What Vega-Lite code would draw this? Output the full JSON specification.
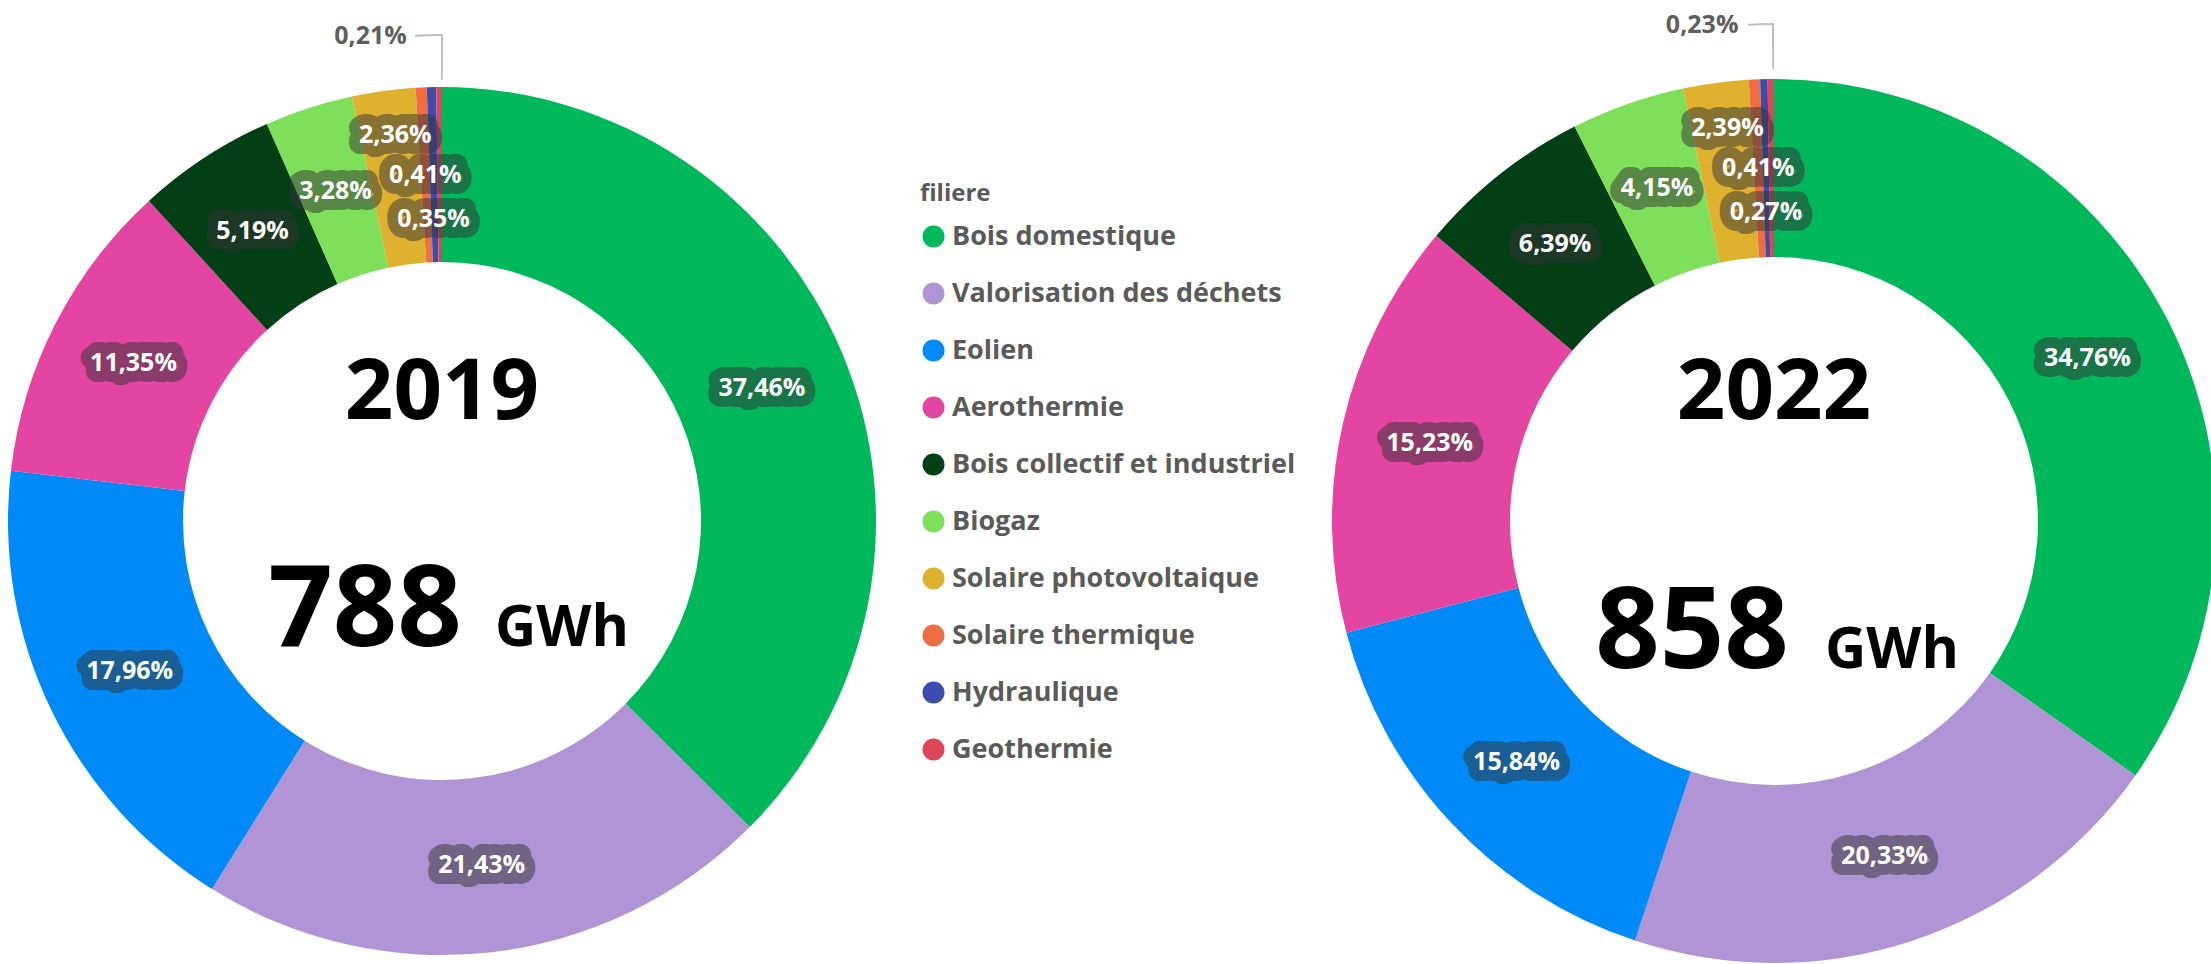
{
  "$schema": "https://vega.github.io/schema/vega-lite/v6.json",
  "width": 2211,
  "height": 886,
  "autosize": {"type": "none"},
  "padding": {"left": 0, "right": 0, "top": 78, "bottom": 0},
  "background": "white",
  "config": {
    "view": {"stroke": null},
    "locale": {"number": {"decimal": ",", "thousands": " ", "grouping": [3], "currency": ["", " €"]}}
  },
  "datasets": {
    "shares": [
      {"year": "2019", "filiere": "Bois domestique", "share": 0.3746},
      {"year": "2019", "filiere": "Valorisation des déchets", "share": 0.2143},
      {"year": "2019", "filiere": "Eolien", "share": 0.1796},
      {"year": "2019", "filiere": "Aerothermie", "share": 0.1135},
      {"year": "2019", "filiere": "Bois collectif et industriel", "share": 0.0519},
      {"year": "2019", "filiere": "Biogaz", "share": 0.0328},
      {"year": "2019", "filiere": "Solaire photovoltaique", "share": 0.0236},
      {"year": "2019", "filiere": "Solaire thermique", "share": 0.0041},
      {"year": "2019", "filiere": "Hydraulique", "share": 0.0035},
      {"year": "2019", "filiere": "Geothermie", "share": 0.0021},
      {"year": "2022", "filiere": "Bois domestique", "share": 0.3476},
      {"year": "2022", "filiere": "Valorisation des déchets", "share": 0.2033},
      {"year": "2022", "filiere": "Eolien", "share": 0.1584},
      {"year": "2022", "filiere": "Aerothermie", "share": 0.1523},
      {"year": "2022", "filiere": "Bois collectif et industriel", "share": 0.0639},
      {"year": "2022", "filiere": "Biogaz", "share": 0.0415},
      {"year": "2022", "filiere": "Solaire photovoltaique", "share": 0.0239},
      {"year": "2022", "filiere": "Solaire thermique", "share": 0.0041},
      {"year": "2022", "filiere": "Hydraulique", "share": 0.0027},
      {"year": "2022", "filiere": "Geothermie", "share": 0.0023}
    ],
    "totals": [
      {"year": "2019", "total": 788},
      {"year": "2022", "total": 858}
    ]
  },
  "layer": [
    {
      "data": {"name": "shares"},
      "transform": [{"filter": "datum.year === '2019'"}],
      "mark": {"type": "arc", "innerRadius": 259, "outerRadius": 434},
      "encoding": {
        "x": {"field": "year", "type": "nominal", "scale": {"type": "point", "padding": 0.329955, "align": 0.50284}, "axis": null},
        "theta": {"field": "share", "type": "quantitative", "stack": true},
        "order": {"field": "share", "type": "quantitative", "sort": "descending"},
        "color": {
          "field": "filiere", "type": "nominal",
          "scale": {
            "domain": ["Bois domestique", "Valorisation des déchets", "Eolien", "Aerothermie", "Bois collectif et industriel", "Biogaz", "Solaire photovoltaique", "Solaire thermique", "Hydraulique", "Geothermie"],
            "range": ["#00B85C", "#B094D6", "#008AF8", "#E545A2", "#033F15", "#7DDF5A", "#DEB22F", "#EE6E42", "#3C4DAF", "#DE4556"]
          },
          "legend": {
            "orient": "none", "legendX": 920, "legendY": 104,
            "title": "filiere", "titleFont": "Open Sans", "titleFontSize": 24, "titleFontWeight": "bold", "titleColor": "#5a5a5a", "titlePadding": 17,
            "labelFont": "Open Sans", "labelFontSize": 27, "labelFontWeight": "bold", "labelColor": "#5a5a5a", "labelOffset": 5, "labelLimit": 600,
            "symbolType": "circle", "symbolSize": 484, "symbolStrokeWidth": 0, "symbolOpacity": 1, "rowPadding": 29
          }
        }
      }
    },
    {
      "data": {"name": "shares"},
      "transform": [{"filter": "datum.year === '2019'"}],
      "mark": {"type": "text", "radius": 346.5, "font": "Open Sans", "fontSize": 25, "fontWeight": "bold", "align": "center", "baseline": "middle", "color": "#333333", "stroke": "#333333", "strokeWidth": 22, "strokeJoin": "round", "opacity": 0.5},
      "encoding": {
        "x": {"field": "year", "type": "nominal", "axis": null},
        "theta": {"field": "share", "type": "quantitative", "stack": true},
        "order": {"field": "share", "type": "quantitative", "sort": "descending"},
        "text": {"field": "share", "type": "quantitative", "format": ".2%", "condition": {"test": "indexof(['Solaire photovoltaique','Hydraulique','Geothermie'], datum.filiere) >= 0", "value": ""}}
      }
    },
    {
      "data": {"name": "shares"},
      "transform": [{"filter": "datum.year === '2019'"}],
      "mark": {"type": "text", "radius": 346.5, "font": "Open Sans", "fontSize": 25, "fontWeight": "bold", "align": "center", "baseline": "middle", "color": "white"},
      "encoding": {
        "x": {"field": "year", "type": "nominal", "axis": null},
        "theta": {"field": "share", "type": "quantitative", "stack": true},
        "order": {"field": "share", "type": "quantitative", "sort": "descending"},
        "text": {"field": "share", "type": "quantitative", "format": ".2%", "condition": {"test": "indexof(['Solaire photovoltaique','Hydraulique','Geothermie'], datum.filiere) >= 0", "value": ""}}
      }
    },
    {
      "data": {"name": "shares"},
      "transform": [{"filter": "datum.year === '2019'"}],
      "mark": {"type": "text", "radius": 346.5, "dy": -43, "font": "Open Sans", "fontSize": 25, "fontWeight": "bold", "align": "center", "baseline": "middle", "color": "#333333", "stroke": "#333333", "strokeWidth": 22, "strokeJoin": "round", "opacity": 0.5},
      "encoding": {
        "x": {"field": "year", "type": "nominal", "axis": null},
        "theta": {"field": "share", "type": "quantitative", "stack": true},
        "order": {"field": "share", "type": "quantitative", "sort": "descending"},
        "text": {"field": "share", "type": "quantitative", "format": ".2%", "condition": {"test": "datum.filiere !== 'Solaire photovoltaique'", "value": ""}}
      }
    },
    {
      "data": {"name": "shares"},
      "transform": [{"filter": "datum.year === '2019'"}],
      "mark": {"type": "text", "radius": 346.5, "dy": -43, "font": "Open Sans", "fontSize": 25, "fontWeight": "bold", "align": "center", "baseline": "middle", "color": "white"},
      "encoding": {
        "x": {"field": "year", "type": "nominal", "axis": null},
        "theta": {"field": "share", "type": "quantitative", "stack": true},
        "order": {"field": "share", "type": "quantitative", "sort": "descending"},
        "text": {"field": "share", "type": "quantitative", "format": ".2%", "condition": {"test": "datum.filiere !== 'Solaire photovoltaique'", "value": ""}}
      }
    },
    {
      "data": {"name": "shares"},
      "transform": [{"filter": "datum.year === '2019'"}],
      "mark": {"type": "text", "radius": 346.5, "dy": 44, "font": "Open Sans", "fontSize": 25, "fontWeight": "bold", "align": "center", "baseline": "middle", "color": "#333333", "stroke": "#333333", "strokeWidth": 22, "strokeJoin": "round", "opacity": 0.5},
      "encoding": {
        "x": {"field": "year", "type": "nominal", "axis": null},
        "theta": {"field": "share", "type": "quantitative", "stack": true},
        "order": {"field": "share", "type": "quantitative", "sort": "descending"},
        "text": {"field": "share", "type": "quantitative", "format": ".2%", "condition": {"test": "datum.filiere !== 'Hydraulique'", "value": ""}}
      }
    },
    {
      "data": {"name": "shares"},
      "transform": [{"filter": "datum.year === '2019'"}],
      "mark": {"type": "text", "radius": 346.5, "dy": 44, "font": "Open Sans", "fontSize": 25, "fontWeight": "bold", "align": "center", "baseline": "middle", "color": "white"},
      "encoding": {
        "x": {"field": "year", "type": "nominal", "axis": null},
        "theta": {"field": "share", "type": "quantitative", "stack": true},
        "order": {"field": "share", "type": "quantitative", "sort": "descending"},
        "text": {"field": "share", "type": "quantitative", "format": ".2%", "condition": {"test": "datum.filiere !== 'Hydraulique'", "value": ""}}
      }
    },
    {
      "data": {"name": "shares"},
      "transform": [{"filter": "datum.year === '2019'"}],
      "mark": {"type": "text", "radius": 485, "dx": -32, "font": "Open Sans", "fontSize": 25, "fontWeight": "bold", "align": "right", "baseline": "middle", "color": "#605E5C"},
      "encoding": {
        "x": {"field": "year", "type": "nominal", "axis": null},
        "theta": {"field": "share", "type": "quantitative", "stack": true},
        "order": {"field": "share", "type": "quantitative", "sort": "descending"},
        "text": {"field": "share", "type": "quantitative", "format": ".2%", "condition": {"test": "datum.filiere !== 'Geothermie'", "value": ""}}
      }
    },
    {
      "data": {"name": "shares"},
      "transform": [{"filter": "datum.year === '2019' && datum.filiere === 'Geothermie'"}],
      "mark": {"type": "arc", "theta": -0.002, "theta2": 0.002, "innerRadius": 441, "outerRadius": 487, "color": "#BDBDBD"},
      "encoding": {"x": {"field": "year", "type": "nominal", "axis": null}}
    },
    {
      "data": {"name": "shares"},
      "transform": [{"filter": "datum.year === '2019' && datum.filiere === 'Geothermie'"}],
      "mark": {"type": "arc", "theta": -0.0556, "theta2": 0.0, "innerRadius": 485, "outerRadius": 487, "color": "#BDBDBD"},
      "encoding": {"x": {"field": "year", "type": "nominal", "axis": null}}
    },
    {
      "data": {"name": "shares"},
      "transform": [{"filter": "datum.year === '2022'"}],
      "mark": {"type": "arc", "innerRadius": 264, "outerRadius": 442},
      "encoding": {
        "x": {"field": "year", "type": "nominal", "axis": null},
        "theta": {"field": "share", "type": "quantitative", "stack": true},
        "order": {"field": "share", "type": "quantitative", "sort": "descending"},
        "color": {"field": "filiere", "type": "nominal"}
      }
    },
    {
      "data": {"name": "shares"},
      "transform": [{"filter": "datum.year === '2022'"}],
      "mark": {"type": "text", "radius": 353, "font": "Open Sans", "fontSize": 25, "fontWeight": "bold", "align": "center", "baseline": "middle", "color": "#333333", "stroke": "#333333", "strokeWidth": 22, "strokeJoin": "round", "opacity": 0.5},
      "encoding": {
        "x": {"field": "year", "type": "nominal", "axis": null},
        "theta": {"field": "share", "type": "quantitative", "stack": true},
        "order": {"field": "share", "type": "quantitative", "sort": "descending"},
        "text": {"field": "share", "type": "quantitative", "format": ".2%", "condition": {"test": "indexof(['Solaire photovoltaique','Hydraulique','Geothermie'], datum.filiere) >= 0", "value": ""}}
      }
    },
    {
      "data": {"name": "shares"},
      "transform": [{"filter": "datum.year === '2022'"}],
      "mark": {"type": "text", "radius": 353, "font": "Open Sans", "fontSize": 25, "fontWeight": "bold", "align": "center", "baseline": "middle", "color": "white"},
      "encoding": {
        "x": {"field": "year", "type": "nominal", "axis": null},
        "theta": {"field": "share", "type": "quantitative", "stack": true},
        "order": {"field": "share", "type": "quantitative", "sort": "descending"},
        "text": {"field": "share", "type": "quantitative", "format": ".2%", "condition": {"test": "indexof(['Solaire photovoltaique','Hydraulique','Geothermie'], datum.filiere) >= 0", "value": ""}}
      }
    },
    {
      "data": {"name": "shares"},
      "transform": [{"filter": "datum.year === '2022'"}],
      "mark": {"type": "text", "radius": 353, "dy": -43, "font": "Open Sans", "fontSize": 25, "fontWeight": "bold", "align": "center", "baseline": "middle", "color": "#333333", "stroke": "#333333", "strokeWidth": 22, "strokeJoin": "round", "opacity": 0.5},
      "encoding": {
        "x": {"field": "year", "type": "nominal", "axis": null},
        "theta": {"field": "share", "type": "quantitative", "stack": true},
        "order": {"field": "share", "type": "quantitative", "sort": "descending"},
        "text": {"field": "share", "type": "quantitative", "format": ".2%", "condition": {"test": "datum.filiere !== 'Solaire photovoltaique'", "value": ""}}
      }
    },
    {
      "data": {"name": "shares"},
      "transform": [{"filter": "datum.year === '2022'"}],
      "mark": {"type": "text", "radius": 353, "dy": -43, "font": "Open Sans", "fontSize": 25, "fontWeight": "bold", "align": "center", "baseline": "middle", "color": "white"},
      "encoding": {
        "x": {"field": "year", "type": "nominal", "axis": null},
        "theta": {"field": "share", "type": "quantitative", "stack": true},
        "order": {"field": "share", "type": "quantitative", "sort": "descending"},
        "text": {"field": "share", "type": "quantitative", "format": ".2%", "condition": {"test": "datum.filiere !== 'Solaire photovoltaique'", "value": ""}}
      }
    },
    {
      "data": {"name": "shares"},
      "transform": [{"filter": "datum.year === '2022'"}],
      "mark": {"type": "text", "radius": 353, "dy": 44, "font": "Open Sans", "fontSize": 25, "fontWeight": "bold", "align": "center", "baseline": "middle", "color": "#333333", "stroke": "#333333", "strokeWidth": 22, "strokeJoin": "round", "opacity": 0.5},
      "encoding": {
        "x": {"field": "year", "type": "nominal", "axis": null},
        "theta": {"field": "share", "type": "quantitative", "stack": true},
        "order": {"field": "share", "type": "quantitative", "sort": "descending"},
        "text": {"field": "share", "type": "quantitative", "format": ".2%", "condition": {"test": "datum.filiere !== 'Hydraulique'", "value": ""}}
      }
    },
    {
      "data": {"name": "shares"},
      "transform": [{"filter": "datum.year === '2022'"}],
      "mark": {"type": "text", "radius": 353, "dy": 44, "font": "Open Sans", "fontSize": 25, "fontWeight": "bold", "align": "center", "baseline": "middle", "color": "white"},
      "encoding": {
        "x": {"field": "year", "type": "nominal", "axis": null},
        "theta": {"field": "share", "type": "quantitative", "stack": true},
        "order": {"field": "share", "type": "quantitative", "sort": "descending"},
        "text": {"field": "share", "type": "quantitative", "format": ".2%", "condition": {"test": "datum.filiere !== 'Hydraulique'", "value": ""}}
      }
    },
    {
      "data": {"name": "shares"},
      "transform": [{"filter": "datum.year === '2022'"}],
      "mark": {"type": "text", "radius": 496, "dx": -32, "font": "Open Sans", "fontSize": 25, "fontWeight": "bold", "align": "right", "baseline": "middle", "color": "#605E5C"},
      "encoding": {
        "x": {"field": "year", "type": "nominal", "axis": null},
        "theta": {"field": "share", "type": "quantitative", "stack": true},
        "order": {"field": "share", "type": "quantitative", "sort": "descending"},
        "text": {"field": "share", "type": "quantitative", "format": ".2%", "condition": {"test": "datum.filiere !== 'Geothermie'", "value": ""}}
      }
    },
    {
      "data": {"name": "shares"},
      "transform": [{"filter": "datum.year === '2022' && datum.filiere === 'Geothermie'"}],
      "mark": {"type": "arc", "theta": -0.004, "theta2": 0.0, "innerRadius": 452, "outerRadius": 498, "color": "#BDBDBD"},
      "encoding": {"x": {"field": "year", "type": "nominal", "axis": null}}
    },
    {
      "data": {"name": "shares"},
      "transform": [{"filter": "datum.year === '2022' && datum.filiere === 'Geothermie'"}],
      "mark": {"type": "arc", "theta": -0.0523, "theta2": 0.0, "innerRadius": 496, "outerRadius": 498, "color": "#BDBDBD"},
      "encoding": {"x": {"field": "year", "type": "nominal", "axis": null}}
    },
    {
      "data": {"name": "totals"},
      "mark": {"type": "text", "font": "Open Sans", "fontSize": 85, "fontWeight": "bold", "align": "center", "baseline": "alphabetic", "dy": -102, "color": "black"},
      "encoding": {
        "x": {"field": "year", "type": "nominal", "axis": null},
        "text": {"field": "year", "type": "nominal"}
      }
    },
    {
      "data": {"name": "totals"},
      "transform": [{"filter": "datum.year === '2019'"}],
      "mark": {"type": "text", "font": "Open Sans", "fontSize": 113, "fontWeight": "bold", "align": "right", "baseline": "alphabetic", "dx": 20, "dy": 125, "color": "black"},
      "encoding": {
        "x": {"field": "year", "type": "nominal", "axis": null},
        "text": {"field": "total", "type": "quantitative", "format": "d"}
      }
    },
    {
      "data": {"name": "totals"},
      "transform": [{"filter": "datum.year === '2019'"}],
      "mark": {"type": "text", "font": "Open Sans", "fontSize": 57, "fontWeight": "bold", "align": "left", "baseline": "alphabetic", "dx": 53, "dy": 125, "color": "black"},
      "encoding": {
        "x": {"field": "year", "type": "nominal", "axis": null},
        "text": {"value": "GWh"}
      }
    },
    {
      "data": {"name": "totals"},
      "transform": [{"filter": "datum.year === '2022'"}],
      "mark": {"type": "text", "font": "Open Sans", "fontSize": 113, "fontWeight": "bold", "align": "right", "baseline": "alphabetic", "dx": 15, "dy": 147, "color": "black"},
      "encoding": {
        "x": {"field": "year", "type": "nominal", "axis": null},
        "text": {"field": "total", "type": "quantitative", "format": "d"}
      }
    },
    {
      "data": {"name": "totals"},
      "transform": [{"filter": "datum.year === '2022'"}],
      "mark": {"type": "text", "font": "Open Sans", "fontSize": 57, "fontWeight": "bold", "align": "left", "baseline": "alphabetic", "dx": 51, "dy": 147, "color": "black"},
      "encoding": {
        "x": {"field": "year", "type": "nominal", "axis": null},
        "text": {"value": "GWh"}
      }
    }
  ]
}
